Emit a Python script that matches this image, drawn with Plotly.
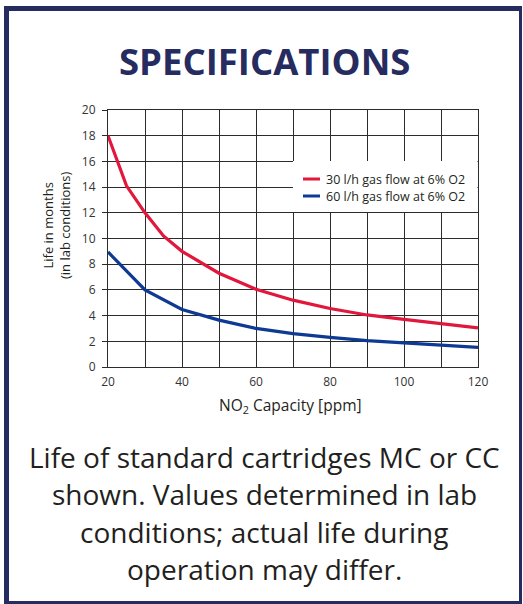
import plotly.graph_objects as go

# NO2 capacity (ppm) and cartridge life (months) for two gas flows
capacity_30 = [20, 25, 30, 35, 40, 50, 60, 70, 80, 90, 100, 110, 120]
life_30 = [18.0, 14.1, 12.0, 10.2, 9.0, 7.3, 6.05, 5.2, 4.55, 4.05, 3.7, 3.38, 3.05]
capacity_60 = [20, 30, 40, 50, 60, 70, 80, 90, 100, 110, 120]
life_60 = [8.95, 6.0, 4.48, 3.65, 3.0, 2.6, 2.3, 2.05, 1.88, 1.7, 1.52]

series_names = ["30 l/h gas flow at 6% O2", "60 l/h gas flow at 6% O2"]
series_colors = ["#E2173C", "#0E3A94"]

x_ticks = [20, 40, 60, 80, 100, 120]
y_ticks = [0, 2, 4, 6, 8, 10, 12, 14, 16, 18, 20]

W, H = 523, 604
L, R, T, B = 108, 478, 110, 367   # plot area in pixels

def px(x):
    return (x - L) / (R - L)

def py(y):
    return (B - y) / (B - T)

NAVY = "#262B60"
TEXT = "#231F20"
GRID = "#2b2b2b"
FONT = "Open Sans"

fig = go.Figure()
fig.add_trace(go.Scatter(x=capacity_30, y=life_30, mode="lines", name=series_names[0],
                         line=dict(color=series_colors[0], width=3.2)))
fig.add_trace(go.Scatter(x=capacity_60, y=life_60, mode="lines", name=series_names[1],
                         line=dict(color=series_colors[1], width=3.2)))

shapes = []
# frame around the card
for x0, y0, x1, y1 in [(4, 6, 522, 11), (4, 6, 9, 604), (519, 6, 522, 604), (4, 601, 522, 604)]:
    shapes.append(dict(type="rect", xref="paper", yref="paper",
                       x0=px(x0), x1=px(x1), y0=py(y0), y1=py(y1),
                       fillcolor=NAVY, line=dict(width=0), layer="above"))
# legend box and samples
shapes.append(dict(type="rect", xref="paper", yref="paper",
                   x0=px(293), x1=px(477.5), y0=py(161), y1=py(212),
                   fillcolor="white", line=dict(width=0), layer="above"))
for i, yy in enumerate([179, 196]):
    shapes.append(dict(type="line", xref="paper", yref="paper",
                       x0=px(303), x1=px(320), y0=py(yy), y1=py(yy),
                       line=dict(color=series_colors[i], width=3), layer="above"))

annotations = [
    dict(text="<b>SPECIFICATIONS</b>", x=px(264), y=py(61), xref="paper", yref="paper",
         showarrow=False, xanchor="center", yanchor="middle",
         font=dict(family=FONT, size=36.5, color=NAVY)),
    dict(text="NO<sub>2</sub> Capacity [ppm]", x=px(290), y=py(405), xref="paper", yref="paper",
         showarrow=False, xanchor="center", yanchor="middle",
         font=dict(family=FONT, size=15.5, color=TEXT)),
    dict(text="Life in months<br>(in lab conditions)", x=px(56), y=py(226), xref="paper", yref="paper",
         showarrow=False, xanchor="center", yanchor="middle", textangle=-90,
         font=dict(family=FONT, size=13, color=TEXT)),
]
for i, yy in enumerate([179, 196]):
    annotations.append(dict(text=series_names[i], x=px(324), y=py(yy), xref="paper", yref="paper",
                            showarrow=False, xanchor="left", yanchor="middle",
                            font=dict(family=FONT, size=12.5, color=TEXT)))

caption = ["Life of standard cartridges MC or CC",
           "shown. Values determined in lab",
           "conditions; actual life during",
           "operation may differ."]
for i, line in enumerate(caption):
    annotations.append(dict(text=line, x=px(264), y=py(457 + 37.3 * i), xref="paper", yref="paper",
                            showarrow=False, xanchor="center", yanchor="middle",
                            font=dict(family=FONT, size=28, color=TEXT)))

fig.update_layout(
    width=W, height=H,
    margin=dict(l=L, r=W - R, t=T, b=H - B, pad=0),
    paper_bgcolor="white", plot_bgcolor="white",
    showlegend=False,
    shapes=shapes, annotations=annotations,
    font=dict(family=FONT, color=TEXT),
    xaxis=dict(range=[20, 120], tickvals=x_ticks, showgrid=True, gridcolor=GRID, gridwidth=1,
               minor=dict(dtick=10, tick0=20, showgrid=True, gridcolor=GRID, gridwidth=1),
               showline=True, linecolor=GRID, linewidth=1, mirror=True,
               ticks="", ticklabelstandoff=4,
               tickfont=dict(size=12, color="#333333"), zeroline=False, fixedrange=True),
    yaxis=dict(range=[0, 20], tickvals=y_ticks, showgrid=True, gridcolor=GRID, gridwidth=1,
               showline=True, linecolor=GRID, linewidth=1, mirror=True,
               ticks="outside", ticklen=5, tickcolor=GRID, ticklabelstandoff=4,
               tickfont=dict(size=12, color="#333333"), zeroline=False, fixedrange=True),
)

fig.write_html("out.html", config={"displayModeBar": False})
